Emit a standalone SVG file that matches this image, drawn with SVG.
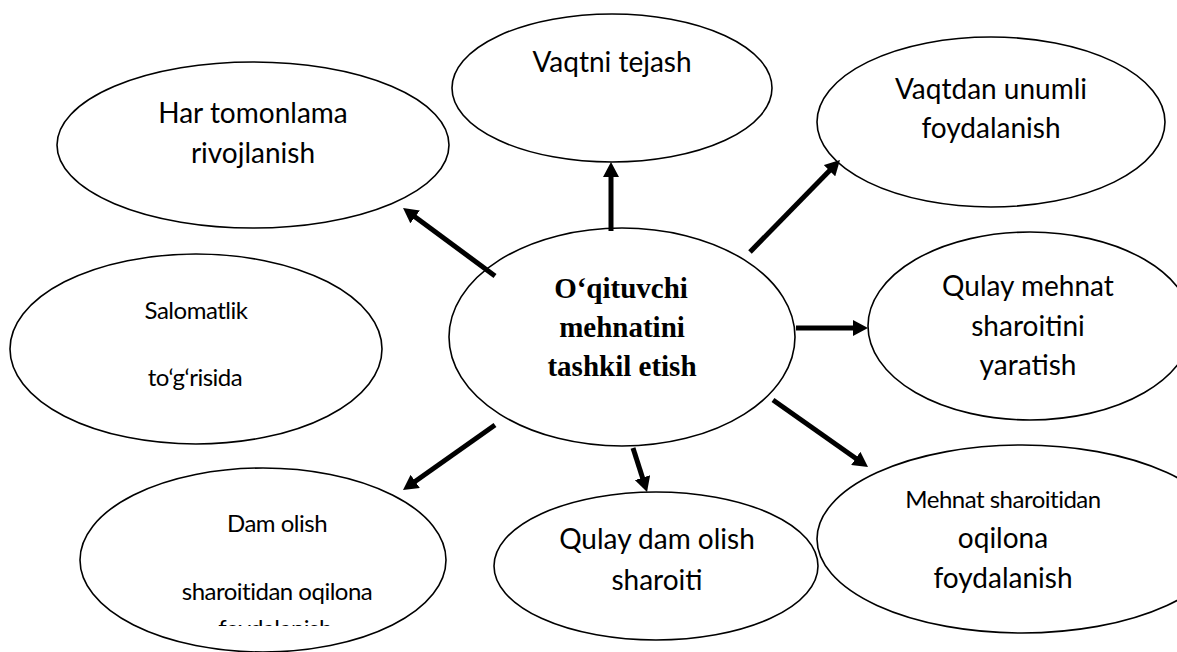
<svg xmlns="http://www.w3.org/2000/svg" width="1177" height="652" viewBox="0 0 1177 652">
<style>
.node ellipse{fill:#fff;stroke:#000;stroke-width:1.6}
.t{font-family:Lato,"Liberation Sans",sans-serif;font-size:28px;fill:#000;text-anchor:middle}
.c{font-family:Lato,"Liberation Sans",sans-serif;font-size:24px;fill:#000;text-anchor:middle;letter-spacing:-0.5px}
.b{font-family:"Liberation Serif","Times New Roman",serif;font-size:29px;font-weight:bold;fill:#000;text-anchor:middle}
.conn line{stroke:#000;stroke-width:5;marker-end:url(#ah)}
</style>
<defs>
<marker id="ah" markerUnits="userSpaceOnUse" markerWidth="16" markerHeight="16" refX="2" refY="8" orient="auto">
<path d="M0,0 L15,8 L0,16 z" fill="#000"/>
</marker>
<clipPath id="clipDam"><rect x="0" y="0" width="1177" height="626"/></clipPath>
</defs>
<rect width="1177" height="652" fill="#fff"/>
<g id="har-tomonlama" class="node">
<ellipse cx="253" cy="145" rx="196" ry="83"/>
<text class="t" x="253" y="123">Har tomonlama</text>
<text class="t" x="253" y="163">rivojlanish</text>
</g>
<g id="vaqtni-tejash" class="node">
<ellipse cx="612" cy="88" rx="160" ry="74"/>
<text class="t" x="612" y="72">Vaqtni tejash</text>
</g>
<g id="vaqtdan-unumli" class="node">
<ellipse cx="991" cy="122" rx="174" ry="85"/>
<text class="t" x="991" y="99">Vaqtdan unumli</text>
<text class="t" x="991" y="138">foydalanish</text>
</g>
<g id="qulay-mehnat" class="node">
<ellipse cx="1030" cy="326" rx="162" ry="94"/>
<text class="t" x="1028" y="296">Qulay mehnat</text>
<text class="t" x="1028" y="336">sharoitini</text>
<text class="t" x="1028" y="375">yaratish</text>
</g>
<g id="salomatlik" class="node">
<ellipse cx="196" cy="349" rx="186" ry="95"/>
<text class="c" x="196" y="319">Salomatlik</text>
<text class="c" x="195" y="386">to‘g‘risida</text>
</g>
<g id="markaz" class="node">
<ellipse cx="622" cy="337" rx="173" ry="109"/>
<text class="b" x="621" y="298">O‘qituvchi</text>
<text class="b" x="622" y="337">mehnatini</text>
<text class="b" x="622" y="376">tashkil etish</text>
</g>
<g id="dam-olish" class="node">
<ellipse cx="263" cy="560" rx="183" ry="92"/>
<text class="c" x="277" y="532">Dam olish</text>
<text class="c" x="277" y="600">sharoitidan oqilona</text>
<text class="c" x="275" y="637" clip-path="url(#clipDam)">foydalanish</text>
</g>
<g id="qulay-dam-olish" class="node">
<ellipse cx="656" cy="566" rx="162" ry="74"/>
<text class="t" x="657" y="549">Qulay dam olish</text>
<text class="t" x="657" y="590">sharoiti</text>
</g>
<g id="mehnat-sharoitidan" class="node">
<ellipse cx="1022" cy="539" rx="205" ry="94"/>
<text class="c" x="1003" y="508">Mehnat sharoitidan</text>
<text class="t" x="1003" y="548">oqilona</text>
<text class="t" x="1003" y="588">foydalanish</text>
</g>
<g id="connectors" class="conn">
<line x1="495" y1="276" x2="413.5" y2="215.7"/>
<line x1="611" y1="231" x2="611" y2="175"/>
<line x1="750" y1="252" x2="830.9" y2="169.3"/>
<line x1="796" y1="328" x2="855" y2="328"/>
<line x1="773" y1="400" x2="857.4" y2="459.5"/>
<line x1="633" y1="448" x2="643.1" y2="479.6"/>
<line x1="495" y1="425" x2="413.6" y2="482.5"/>
</g>
</svg>
